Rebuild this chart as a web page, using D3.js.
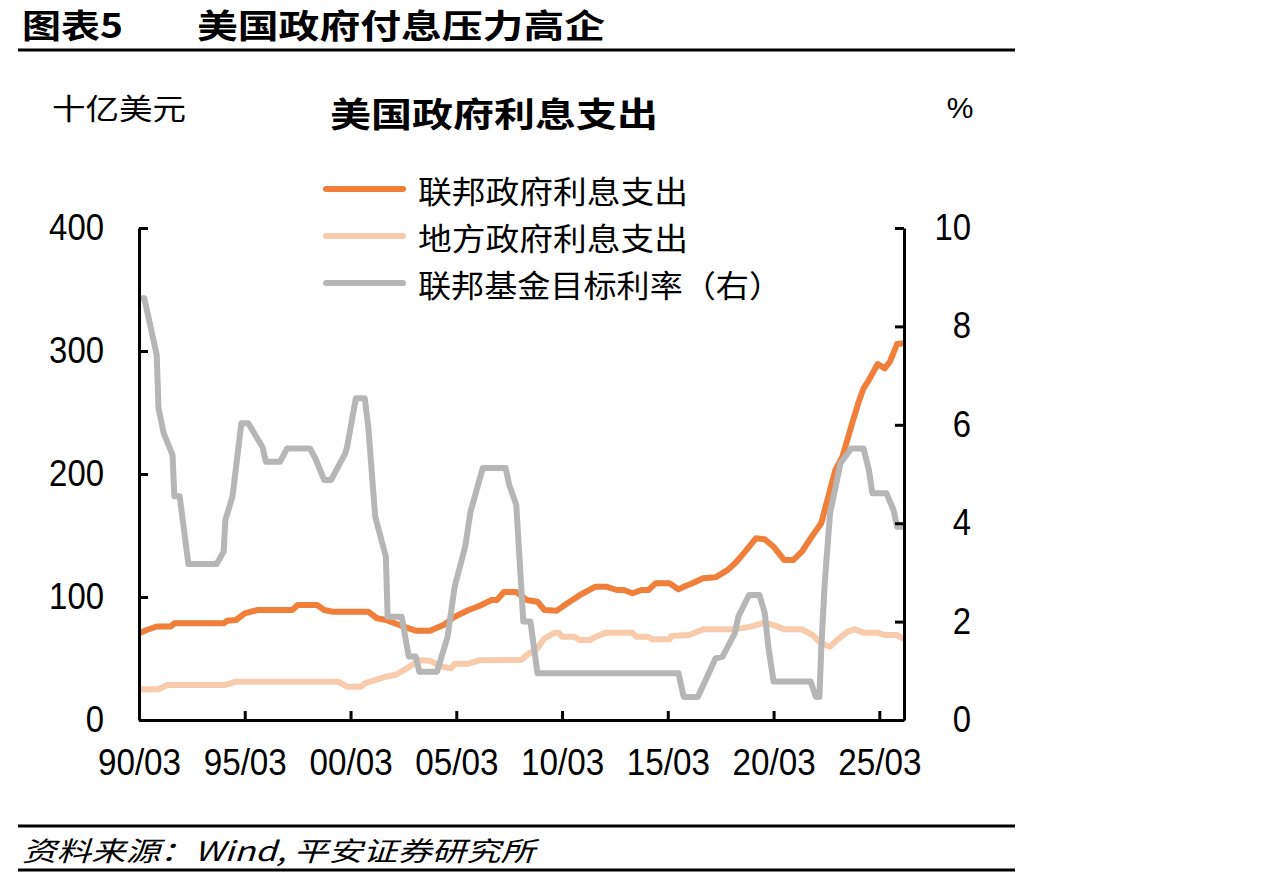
<!DOCTYPE html>
<html>
<head>
<meta charset="utf-8">
<script src="https://cdn.jsdelivr.net/npm/d3@7"></script>
<style>
  body { margin: 0; background: #fff; }
  svg { display: block; }
</style>
</head>
<body>
<svg id="chart" width="1267" height="880"></svg>
<script>
// values ("yyyy-mm", value)
const federalInterest = [
  ["1990-03",70.5],["1990-07",73],["1991-01",76],["1991-09",76],["1991-11",78.6],["1994-03",78.6],
  ["1994-05",80.7],["1994-10",81.3],["1995-03",86.7],["1995-10",89.4],["1997-06",89.4],["1997-09",93.5],
  ["1998-08",93.5],["1998-12",89.4],["1999-05",88],["2001-01",88],["2001-06",82.7],["2001-11",81.3],
  ["2002-12",74.5],["2003-04",72.6],["2003-12",72.6],["2004-08",77.5],["2005-02",84],["2005-10",89.4],
  ["2006-04",92.7],["2006-11",97.6],["2007-02",97.6],["2007-06",104],["2008-01",104],["2008-07",97.6],
  ["2009-01",96.2],["2009-05",89.4],["2009-12",88.9],["2010-06",94.9],["2011-02",102.4],["2011-10",108.4],
  ["2012-04",108.4],["2012-10",105.7],["2013-02",105.7],["2013-07",103],["2013-12",105.7],["2014-04",105.7],
  ["2014-08",111.1],["2015-04",111.1],["2015-09",106.2],["2016-01",108.9],["2016-04",110.6],["2016-11",115.2],
  ["2017-06",116],["2018-01",122],["2018-06",128.7],["2018-10",135.5],["2019-05",147.7],["2019-10",146.9],
  ["2020-03",140.9],["2020-09",130],["2021-02",130],["2021-07",136.8],["2021-12",147.7],["2022-06",159.9],
  ["2022-10",181.5],["2023-02",203.3],["2023-06",214],["2023-11",238.5],["2024-03",257.5],["2024-06",269.7],
  ["2024-09",276.4],["2025-02",289.4],["2025-06",285.9],["2025-09",291.3],["2026-01",305.7],["2026-05",306.3]
]

const localInterest = [
  ["1990-03",25],["1991-02",25],["1991-07",28.5],["1994-04",28.5],["1994-10",31.1],["1999-08",31.1],
  ["2000-01",27.1],["2000-09",27.1],["2000-11",29.8],["2001-05",32.5],["2001-11",35.2],["2002-05",37],
  ["2002-12",43],["2003-06",48.5],["2003-12",48.2],["2004-07",43.3],["2004-12",42],["2005-02",45.8],
  ["2005-10",45.8],["2006-04",48.5],["2008-04",48.8],["2008-07",52.8],["2009-01",58.3],["2009-05",66.4],
  ["2009-11",71],["2010-01",71],["2010-03",67.7],["2010-10",67.7],["2011-01",65],["2011-07",65],
  ["2011-10",67.7],["2012-04",71],["2013-07",71],["2013-09",67.7],["2014-04",67.7],["2014-06",65.6],
  ["2015-04",65.6],["2015-05",68.3],["2016-03",69.1],["2016-11",73.7],["2018-05",73.7],["2019-02",75.9],
  ["2019-10",79.1],["2020-03",77.2],["2020-09",73.7],["2021-07",73.7],["2022-01",69.1],["2022-06",62.3],
  ["2022-11",59.6],["2023-03",65],["2023-09",71.8],["2024-01",73.7],["2024-06",71],["2025-02",71],
  ["2025-06",69.1],["2026-01",69.1],["2026-05",65.6]
]

const fedFundsTarget = [
  ["1990-03",8.57],["1990-06",8.57],["1991-01",7.42],["1991-02",6.34],["1991-05",5.83],["1991-10",5.39],
  ["1991-11",4.55],["1992-02",4.55],["1992-04",4.0],["1992-07",3.17],["1993-11",3.17],["1994-03",3.42],
  ["1994-04",4.07],["1994-08",4.54],["1995-01",6.03],["1995-05",6.03],["1996-01",5.55],["1996-03",5.25],
  ["1996-11",5.25],["1997-03",5.52],["1998-04",5.52],["1998-07",5.32],["1998-12",4.88],["1999-04",4.88],
  ["1999-12",5.42],["2000-01",5.55],["2000-06",6.54],["2000-11",6.54],["2001-01",5.96],["2001-05",4.13],
  ["2001-11",3.32],["2001-12",2.1],["2002-08",2.1],["2002-12",1.29],["2003-04",1.29],["2003-06",0.98],
  ["2004-04",0.98],["2004-10",1.69],["2005-02",2.71],["2005-08",3.52],["2005-11",4.23],["2006-06",5.12],
  ["2007-07",5.12],["2007-09",4.78],["2008-01",4.37],["2008-05",2.0],["2008-09",2.0],["2009-01",0.95],
  ["2015-09",0.95],["2015-12",0.47],["2016-08",0.47],["2016-12",0.78],["2017-06",1.25],["2017-10",1.29],
  ["2018-05",1.76],["2018-07",2.1],["2019-01",2.54],["2019-07",2.54],["2019-10",2.17],["2019-12",1.49],
  ["2020-03",0.78],["2021-12",0.78],["2022-03",0.47],["2022-05",0.47],["2022-06",1.42],["2022-08",2.78],
  ["2022-11",4.2],["2023-05",5.22],["2023-11",5.52],["2024-06",5.52],["2024-09",5.08],["2024-11",4.61],
  ["2025-07",4.61],["2025-11",4.27],["2026-01",3.93],["2026-05",3.93]
]

const xTickDates = ["1990-03","1995-03","2000-03","2005-03","2010-03","2015-03","2020-03","2025-03"]
const xTickLabels = ["90/03","95/03","00/03","05/03","10/03","15/03","20/03","25/03"]
const leftTicks = [0, 100, 200, 300, 400]
const rightTicks = [0, 2, 4, 6, 8, 10]
const legendNames = ["联邦政府利息支出", "地方政府利息支出", "联邦基金目标利率（右）"]

const parseMonth = d3.timeParse("%Y-%m")
const cjk = "'Noto Sans CJK SC', 'Liberation Sans', sans-serif"
const latin = "'Liberation Sans', Arial, sans-serif"

const svg = d3.select("#chart")
const plot = {left: 139, right: 904, top: 228, bottom: 720}

const x = d3.scaleTime()
  .domain([parseMonth("1990-03"), parseMonth("2026-05")])
  .range([plot.left, plot.right])
const yLeft = d3.scaleLinear().domain([0, 400]).range([plot.bottom, plot.top])
const yRight = d3.scaleLinear().domain([0, 10]).range([plot.bottom, plot.top])

// text helper, stretched to the width seen in the picture
function label(txt, px, py, size, width, opts = {}){
  const t = svg.append("text")
    .attr("x", px).attr("y", py)
    .attr("font-family", opts.family || cjk)
    .attr("font-size", size)
    .attr("font-weight", opts.weight || "normal")
    .attr("font-style", opts.style || "normal")
    .attr("text-anchor", opts.anchor || "start")
    .attr("dominant-baseline", "central")
    .attr("fill", "#000")
    .text(txt)
  if(width) t.attr("textLength", width).attr("lengthAdjust", "spacingAndGlyphs")
  return t
}

// header
label("图表5", 22, 24, 33, 101, {weight: "bold"})
label("美国政府付息压力高企", 197, 24, 33, 408, {weight: "bold"})
svg.append("line").attr("x1", 18).attr("x2", 1015).attr("y1", 50).attr("y2", 50)
  .attr("stroke", "#000").attr("stroke-width", 3)

// chart titles
label("十亿美元", 52, 107, 29, 134)
label("美国政府利息支出", 330, 112, 34, 328, {weight: "bold"})
label("%", 960, 107, 30, null, {family: latin, anchor: "middle"})

// series (secondary-axis line drawn last, on top)
const seriesList = [
  {data: localInterest, y: yLeft, color: "#F8CBAD"},
  {data: federalInterest, y: yLeft, color: "#F07F3A"},
  {data: fedFundsTarget, y: yRight, color: "#B6B6B6"}
]
for(const s of seriesList){
  const line = d3.line()
    .x(d => x(parseMonth(d[0])))
    .y(d => s.y(d[1]))
  svg.append("path")
    .datum(s.data)
    .attr("d", line)
    .attr("fill", "none")
    .attr("stroke", s.color)
    .attr("stroke-width", 6)
    .attr("stroke-linejoin", "round")
}

// axes
const numWidth = t => t.split("").reduce((w, c) => w + (c === "/" ? 10 : 18.3), 0)

const xAxis = d3.axisBottom(x)
  .tickValues(xTickDates.map(parseMonth))
  .tickFormat((d, i) => xTickLabels[i])
  .tickSizeInner(-9).tickSizeOuter(0)
const gx = svg.append("g").attr("transform", `translate(0,${plot.bottom})`).call(xAxis)

const gl = svg.append("g").attr("transform", `translate(${plot.left},0)`)
  .call(d3.axisLeft(yLeft).tickValues(leftTicks).tickSizeInner(-9).tickSizeOuter(0).tickPadding(35))

const gr = svg.append("g").attr("transform", `translate(${plot.right},0)`)
  .call(d3.axisRight(yRight).tickValues(rightTicks).tickSizeInner(-9).tickSizeOuter(0))

for(const g of [gx, gl, gr]){
  g.select(".domain").attr("stroke", "#000").attr("stroke-width", 3)
  g.selectAll(".tick line").attr("stroke", "#000").attr("stroke-width", 3)
  g.selectAll(".tick text")
    .attr("font-family", latin)
    .attr("font-size", 36)
    .attr("fill", "#000")
    .attr("lengthAdjust", "spacingAndGlyphs")
    .attr("textLength", function(){ return numWidth(this.textContent) })
}
gx.selectAll(".tick text").attr("dy", "0.35em").attr("y", 42)
gr.selectAll(".tick text").attr("text-anchor", "end").attr("x", 67)

// legend
const legendY = [189, 236, 283]
const legendWidths = [270, 270, 364]
const legendColors = ["#F07F3A", "#F8CBAD", "#B6B6B6"]
legendNames.forEach((name, i) => {
  svg.append("line")
    .attr("x1", 326).attr("x2", 403)
    .attr("y1", legendY[i]).attr("y2", legendY[i])
    .attr("stroke", legendColors[i]).attr("stroke-width", 6)
    .attr("stroke-linecap", "round")
  label(name, 418, legendY[i], 31, legendWidths[i])
})

// footer
svg.append("line").attr("x1", 18).attr("x2", 1015).attr("y1", 826).attr("y2", 826)
  .attr("stroke", "#000").attr("stroke-width", 3)
label("资料来源：Wind, 平安证券研究所", 22, 849, 27, 513, {style: "italic"})
svg.append("line").attr("x1", 18).attr("x2", 1015).attr("y1", 870).attr("y2", 870)
  .attr("stroke", "#000").attr("stroke-width", 3)
</script>
</body>
</html>
